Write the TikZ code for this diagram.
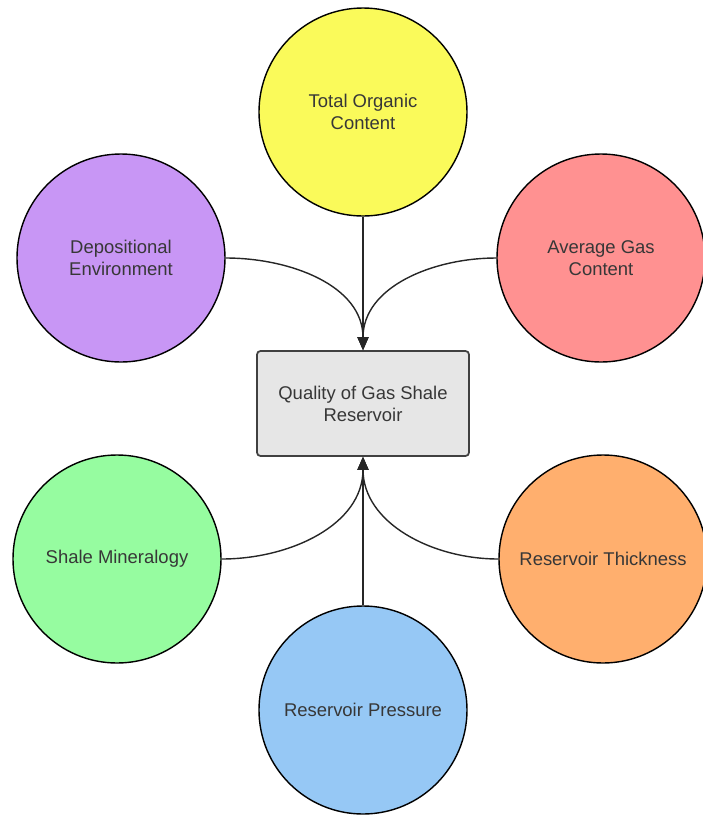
\documentclass[tikz,border=0pt]{standalone}
\usepackage{fontspec}
\setmainfont{Liberation Sans}
\usepackage{xcolor}
\usepackage{tikz}
\usetikzlibrary{shapes.geometric, arrows}
\usetikzlibrary{arrows.meta}
\definecolor{tocyellow}{RGB}{250,250,90}
\definecolor{deppurple}{RGB}{200,150,245}
\definecolor{gasred}{RGB}{255,145,145}
\definecolor{minegreen}{RGB}{150,252,160}
\definecolor{thickorange}{RGB}{255,175,110}
\definecolor{pressblue}{RGB}{150,200,245}
\definecolor{boxgray}{RGB}{230,230,230}
\definecolor{textgray}{RGB}{55,55,55}
\tikzstyle{factor} = [circle, minimum size=4.16cm, draw=black, line width=0.8pt, text centered, align=center, text=textgray, font=\fontsize{10.5}{12.5}\selectfont]
\tikzstyle{process} = [rectangle, rounded corners=2pt, minimum width=4.24cm, minimum height=2.1cm, text centered, draw=black!75, line width=1pt, fill=boxgray, align=center, text=textgray, font=\fontsize{10.5}{12.5}\selectfont]
\tikzstyle{arrow} = [line width=0.8pt, draw=black!85, -{Triangle[length=2.6mm,width=2.2mm]}]

\begin{document}
\begin{tikzpicture}
                    \useasboundingbox (0,0) rectangle (14.06,-16.3);

                    \node (box) [process] at (7.26,-8.07) {Quality of Gas Shale\\Reservoir};

                    \node (toc) [factor, fill=tocyellow] at (7.26,-2.24) {Total Organic\\Content};
                    \node (dep) [factor, fill=deppurple] at (2.42,-5.16) {Depositional\\Environment};
                    \node (gas) [factor, fill=gasred] at (12.02,-5.16) {Average Gas\\Content};
                    \node (min) [factor, fill=minegreen] at (2.34,-11.18) {Shale Mineralogy};
                    \node (thick) [factor, fill=thickorange] at (12.06,-11.18) {Reservoir Thickness};
                    \node (press) [factor, fill=pressblue] at (7.26,-14.2) {Reservoir Pressure};

                    \draw[arrow] (toc.south) -- (box.north);
                    \draw[arrow] (dep.east) to[out=0, in=90] (box.north);
                    \draw[arrow] (gas.west) to[out=180, in=90] (box.north);

                    \draw[arrow] (press.north) -- (box.south);
                    \draw[arrow] (min.east) to[out=0, in=-90] (box.south);
                    \draw[arrow] (thick.west) to[out=180, in=-90] (box.south);
                \end{tikzpicture}
\end{document}
